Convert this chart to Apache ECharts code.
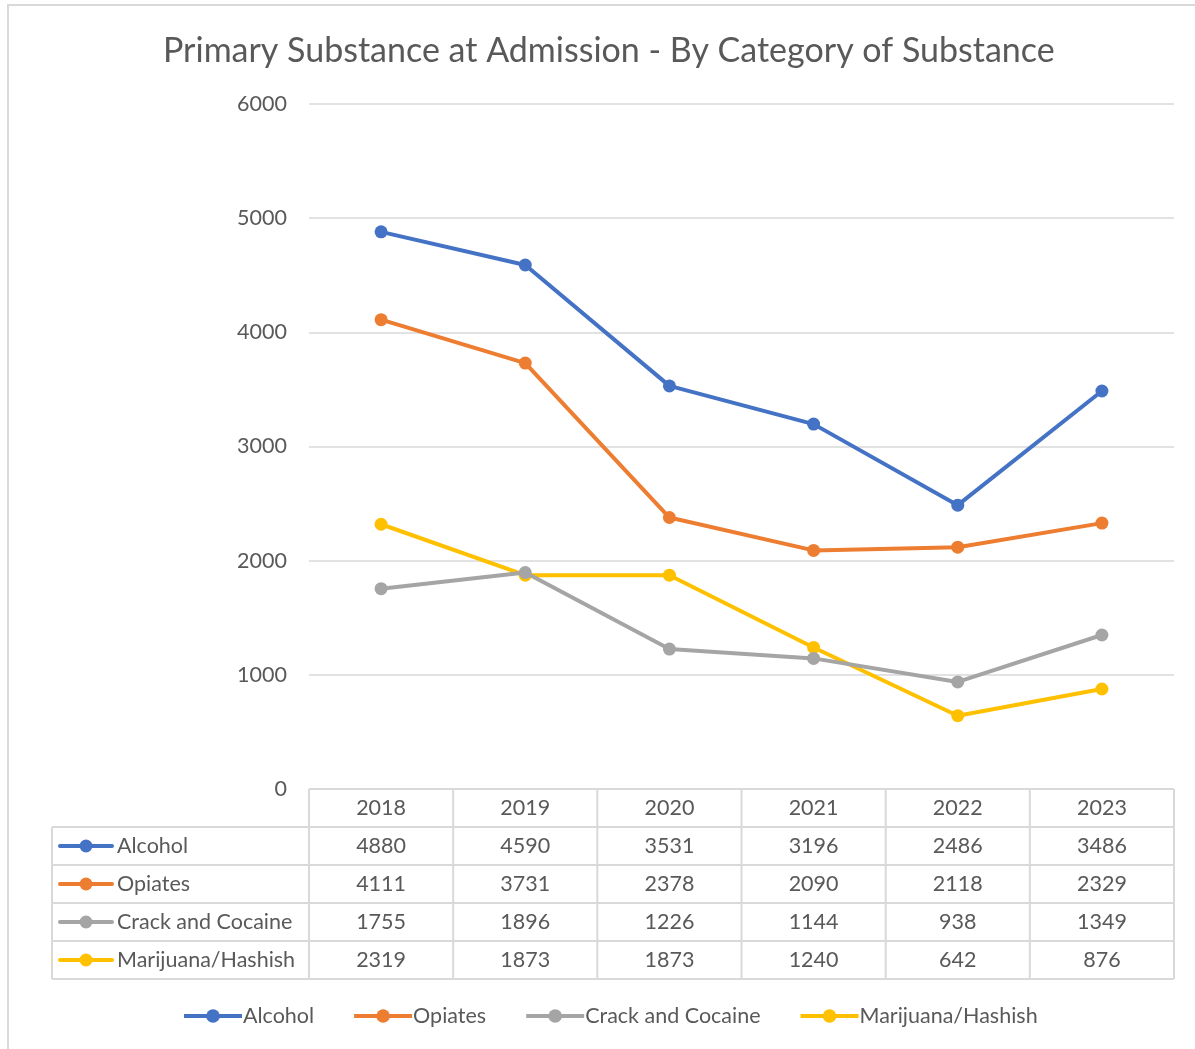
<!DOCTYPE html>
<html>
<head>
<meta charset="utf-8">
<script src="https://cdn.jsdelivr.net/npm/echarts@6/dist/echarts.min.js"></script>
<style>
  html, body { margin: 0; padding: 0; background: #fff; }
  #main { width: 1195px; height: 1049px; }
</style>
</head>
<body>
<div id="main"></div>
<script>
// data
const years = ['2018', '2019', '2020', '2021', '2022', '2023'];
const seriesNames = ['Alcohol', 'Opiates', 'Crack and Cocaine', 'Marijuana/Hashish'];
const alcohol = [4880, 4590, 3531, 3196, 2486, 3486];
const opiates = [4111, 3731, 2378, 2090, 2118, 2329];
const cocaine = [1755, 1896, 1226, 1144, 938, 1349];
const marijuana = [2319, 1873, 1873, 1240, 642, 876];
const colors = ['#4472C4', '#ED7D31', '#A5A5A5', '#FFC000'];

const allValues = [alcohol, opiates, cocaine, marijuana];
const FONT = 'Lato';
const TXT = '#595959';
const LINE = '#d9d9d9';
const FS = 21.5;

const chart = echarts.init(document.getElementById('main'));

chart.setOption({
  backgroundColor: '#fff',
  color: colors,
  textStyle: { fontFamily: FONT },
  title: {
    text: 'Primary Substance at Admission - By Category of Substance',
    left: 158,
    top: 29,
    textStyle: { fontFamily: FONT, fontSize: 34, fontWeight: 'normal', color: TXT }
  },
  grid: { left: 309, right: 21, top: 104, bottom: 260 },
  xAxis: {
    type: 'category',
    data: years,
    boundaryGap: true,
    axisLine: { show: false },
    axisTick: { show: false },
    axisLabel: { show: false }
  },
  yAxis: {
    type: 'value',
    min: 0,
    max: 6000,
    interval: 1000,
    axisLabel: { color: TXT, fontSize: FS, fontFamily: FONT, margin: 22, formatter: v => String(v) },
    splitLine: { lineStyle: { color: LINE, width: 1.5 } }
  },
  legend: {
    bottom: 17,
    left: 177,
    itemWidth: 58,
    itemHeight: 17,
    itemGap: 38,
    lineStyle: { width: 4 },
    textStyle: { color: TXT, fontSize: FS, fontFamily: FONT, padding: [0, 0, 0, -4] },
    data: seriesNames
  },
  series: seriesNames.map((name, i) => ({
    name: name,
    type: 'line',
    data: allValues[i],
    symbol: 'circle',
    symbolSize: 13,
    lineStyle: { width: 4 },
    itemStyle: { color: colors[i] },
    z: 10 - i
  })),
  graphic: []
});

// data table under the plot
function drawTable() {
  const els = [];
  const x0 = chart.convertToPixel({ xAxisIndex: 0 }, 0);
  const x1 = chart.convertToPixel({ xAxisIndex: 0 }, 1);
  const band = x1 - x0;
  const left = x0 - band / 2;
  const right = left + band * years.length;
  const tableLeft = 52;
  const top = chart.convertToPixel({ yAxisIndex: 0 }, 0);
  const rowH = 38;
  const bottom = top + rowH * (seriesNames.length + 1);
  const lineStyle = { stroke: LINE, lineWidth: 2 };

  // horizontal lines
  els.push({ type: 'line', shape: { x1: left, y1: top, x2: right, y2: top }, style: lineStyle });
  for (let r = 1; r <= seriesNames.length + 1; r++) {
    const y = top + rowH * r;
    els.push({ type: 'line', shape: { x1: tableLeft, y1: y, x2: right, y2: y }, style: lineStyle });
  }
  // vertical lines
  els.push({ type: 'line', shape: { x1: tableLeft, y1: top + rowH, x2: tableLeft, y2: bottom }, style: lineStyle });
  for (let c = 0; c <= years.length; c++) {
    const x = left + band * c;
    els.push({ type: 'line', shape: { x1: x, y1: top, x2: x, y2: bottom }, style: lineStyle });
  }
  // header
  years.forEach((yr, c) => {
    els.push({
      type: 'text',
      style: {
        text: yr, x: left + band * (c + 0.5), y: top + rowH / 2,
        align: 'center', verticalAlign: 'middle',
        fill: TXT, fontSize: FS, fontFamily: FONT
      }
    });
  });
  // rows
  seriesNames.forEach((name, r) => {
    const cy = top + rowH * (r + 1.5);
    els.push({ type: 'line', shape: { x1: 60, y1: cy, x2: 112, y2: cy },
      style: { stroke: colors[r], lineWidth: 4, lineCap: 'round' } });
    els.push({ type: 'circle', shape: { cx: 86, cy: cy, r: 6.5 }, style: { fill: colors[r] } });
    els.push({
      type: 'text',
      style: {
        text: name, x: 117, y: cy, align: 'left', verticalAlign: 'middle',
        fill: TXT, fontSize: FS, fontFamily: FONT
      }
    });
    allValues[r].forEach((v, c) => {
      els.push({
        type: 'text',
        style: {
          text: String(v), x: left + band * (c + 0.5), y: cy,
          align: 'center', verticalAlign: 'middle',
          fill: TXT, fontSize: FS, fontFamily: FONT
        }
      });
    });
  });
  // outer chart border
  els.push({ type: 'rect', shape: { x: 8, y: 5, width: 1195, height: 1060 },
    style: { fill: 'none', stroke: LINE, lineWidth: 2 }, z: -1 });

  chart.setOption({ graphic: els });
}
drawTable();
</script>
</body>
</html>
